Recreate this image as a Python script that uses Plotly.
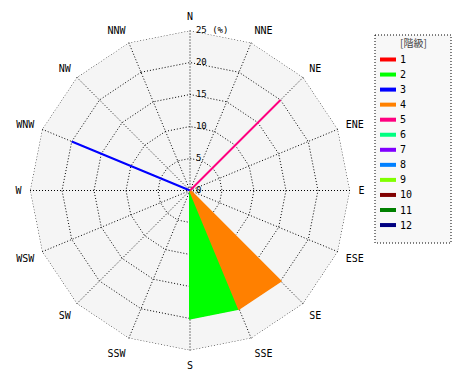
import plotly.graph_objects as go

W, H = 470, 380

directions = ["N", "NNE", "NE", "ENE", "E", "ESE", "SE", "SSE",
              "S", "SSW", "SW", "WSW", "W", "WNW", "NW", "NNW"]
classes = ["1", "2", "3", "4", "5", "6", "7", "8", "9", "10", "11", "12"]
class_colors = ["#FF0000", "#00FF00", "#0000FF", "#FF8000", "#FF0080", "#00FF80",
                "#8000FF", "#0080FF", "#80FF00", "#800000", "#008000", "#000080"]

# frequency (%) per class and direction (only nonzero entries listed)
class_values = {
    "2": {"S": 20, "SSE": 20},
    "4": {"SSE": 20, "SE": 20},
    "5": {"NE": 20},
    "3": {"WNW": 20},
}
radial_max = 25
radial_ticks = [0, 5, 10, 15, 20, 25]
radial_ticktext = ["0", "5", "10", "15", "20", "25 (%)"]
legend_title = "[階級]"

FONT = "DejaVu Sans Mono"
DOT = "1px,2px"

fig = go.Figure()
# outer dotted ring of the grid
fig.add_trace(go.Scatterpolar(
    r=[radial_max] * (len(directions) + 1), theta=directions + directions[:1],
    mode="lines", line=dict(color="black", width=1, dash=DOT),
    showlegend=False, hoverinfo="skip"))
for cls, col in zip(classes, class_colors):
    if cls not in class_values:
        continue
    vals = class_values[cls]
    r = [vals.get(d, 0) for d in directions]
    fig.add_trace(go.Scatterpolar(
        r=r, theta=directions, mode="lines", fill="toself",
        fillcolor=col, line=dict(color=col, width=2),
        name=cls, showlegend=False, hoverinfo="skip"))

nb = "\u00a0"
fig.update_layout(
    width=W, height=H,
    margin=dict(l=0, r=0, t=0, b=0),
    paper_bgcolor="white",
    showlegend=False,
    polar=dict(
        domain=dict(x=[30 / W, 350 / W], y=[1 - 350.5 / H, 1 - 30.5 / H]),
        gridshape="linear",
        bgcolor="#f5f5f5",
        radialaxis=dict(
            range=[0, radial_max], tickvals=radial_ticks,
            ticktext=[nb + t for t in radial_ticktext],
            angle=90, side="clockwise", showline=False, ticks="",
            tickangle=90,
            gridcolor="black", griddash=DOT, gridwidth=1,
            tickfont=dict(family=FONT, size=9, color="black"),
        ),
        angularaxis=dict(
            type="category", categoryarray=directions,
            rotation=90, direction="clockwise",
            showline=False, ticks="outside", ticklen=6,
            tickcolor="rgba(0,0,0,0)",
            gridcolor="black", griddash=DOT, gridwidth=1,
            tickfont=dict(family=FONT, size=10, color="black"),
        ),
    ),
)

# manual legend (paper coordinates from pixel positions)
def px(x):
    return x / W

def py(y):
    return 1 - y / H

shapes = [dict(type="rect", xref="paper", yref="paper",
               x0=px(375), x1=px(451), y0=py(35), y1=py(243),
               line=dict(color="black", width=1, dash=DOT),
               fillcolor="#f8f8f8", layer="below")]
annotations = [dict(text=legend_title, xref="paper", yref="paper",
                    x=px(413), y=py(42), showarrow=False,
                    xanchor="center", yanchor="middle",
                    font=dict(family="Noto Sans CJK JP", size=10, color="#444444"))]
for i, (cls, col) in enumerate(zip(classes, class_colors)):
    yy = 59.5 + i * 15.05
    shapes.append(dict(type="line", xref="paper", yref="paper",
                       x0=px(380), x1=px(396), y0=py(yy), y1=py(yy),
                       line=dict(color=col, width=4)))
    annotations.append(dict(text=cls, xref="paper", yref="paper",
                            x=px(398), y=py(yy), showarrow=False,
                            xanchor="left", yanchor="middle",
                            font=dict(family=FONT, size=10, color="black")))
fig.update_layout(shapes=shapes, annotations=annotations)

fig.write_html("out.html")
